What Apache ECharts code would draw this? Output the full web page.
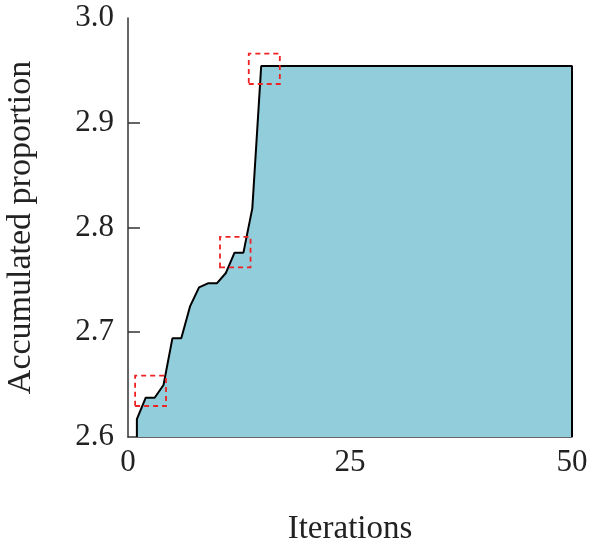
<!DOCTYPE html>
<html><head><meta charset="utf-8">
<script src="https://cdn.jsdelivr.net/npm/echarts@6/dist/echarts.min.js"></script>
<style>html,body{margin:0;padding:0;background:#fff}#c{width:589px;height:549px}</style>
</head><body><div id="c"></div>
<script>
const iterations = [1, 1, 2, 3, 4, 5, 6, 7, 8, 9, 10, 11, 12, 13, 14, 15, 50, 50];
const proportion = [2.6, 2.617, 2.6375, 2.6375, 2.6496, 2.6942, 2.6942, 2.725, 2.7429, 2.7467, 2.7467, 2.7563, 2.776, 2.776, 2.8183, 2.9542, 2.9542, 2.6];
const xTicks = [0, 25, 50];
const yTicks = [2.6, 2.7, 2.8, 2.9, 3.0];
const yInnerTicks = [2.7, 2.8, 2.9];
// highlight boxes: [x0, y0, x1, y1]
const boxes = [
  [0.8, 2.6296, 4.28, 2.6585],
  [10.36, 2.762, 13.8, 2.791],
  [13.6, 2.937, 17.1, 2.966]
];

const font = "'Liberation Serif', 'DejaVu Serif', serif";
const chart = echarts.init(document.getElementById('c'));
chart.setOption({
  animation: false,
  grid: {left: 128, right: 17, top: 18, bottom: 112, outerBoundsMode: 'none', containLabel: false},
  xAxis: {
    type: 'value', min: 0, max: 50, interval: 25,
    name: 'Iterations', nameLocation: 'middle', nameGap: 76,
    nameTextStyle: {fontFamily: font, fontSize: 33, color: '#222'},
    axisLine: {show: true, lineStyle: {color: '#333', width: 1.5}},
    axisTick: {show: false},
    splitLine: {show: false},
    axisLabel: {fontFamily: font, fontSize: 31, color: '#222', margin: 10,
      customValues: xTicks}
  },
  yAxis: {
    type: 'value', min: 2.6, max: 3.0, interval: 0.1,
    name: 'Accumulated proportion', nameLocation: 'middle', nameGap: 90,
    nameTextStyle: {fontFamily: font, fontSize: 34, color: '#222'},
    axisLine: {show: true, lineStyle: {color: '#333', width: 1.5}},
    axisTick: {show: true, inside: true, length: 12, lineStyle: {color: '#333', width: 1.5},
      customValues: yInnerTicks},
    splitLine: {show: false},
    axisLabel: {fontFamily: font, fontSize: 31, color: '#222', margin: 14,
      customValues: yTicks, formatter: v => v.toFixed(1)}
  },
  series: [{
    type: 'line',
    data: iterations.map((x, i) => [x, proportion[i]]),
    symbol: 'none',
    lineStyle: {color: '#000', width: 2},
    areaStyle: {color: '#92CDDC', opacity: 1, origin: 'start'},
    z: 2
  }, {
    type: 'line',
    data: [],
    z: 10,
    markArea: {
      silent: true,
      z: 10,
      itemStyle: {color: 'rgba(0,0,0,0)', borderColor: '#ee2222', borderWidth: 1.8, borderType: [5, 4]},
      data: boxes.map(b => [{coord: [b[0], b[1]]}, {coord: [b[2], b[3]]}])
    }
  }]
});
</script></body></html>
